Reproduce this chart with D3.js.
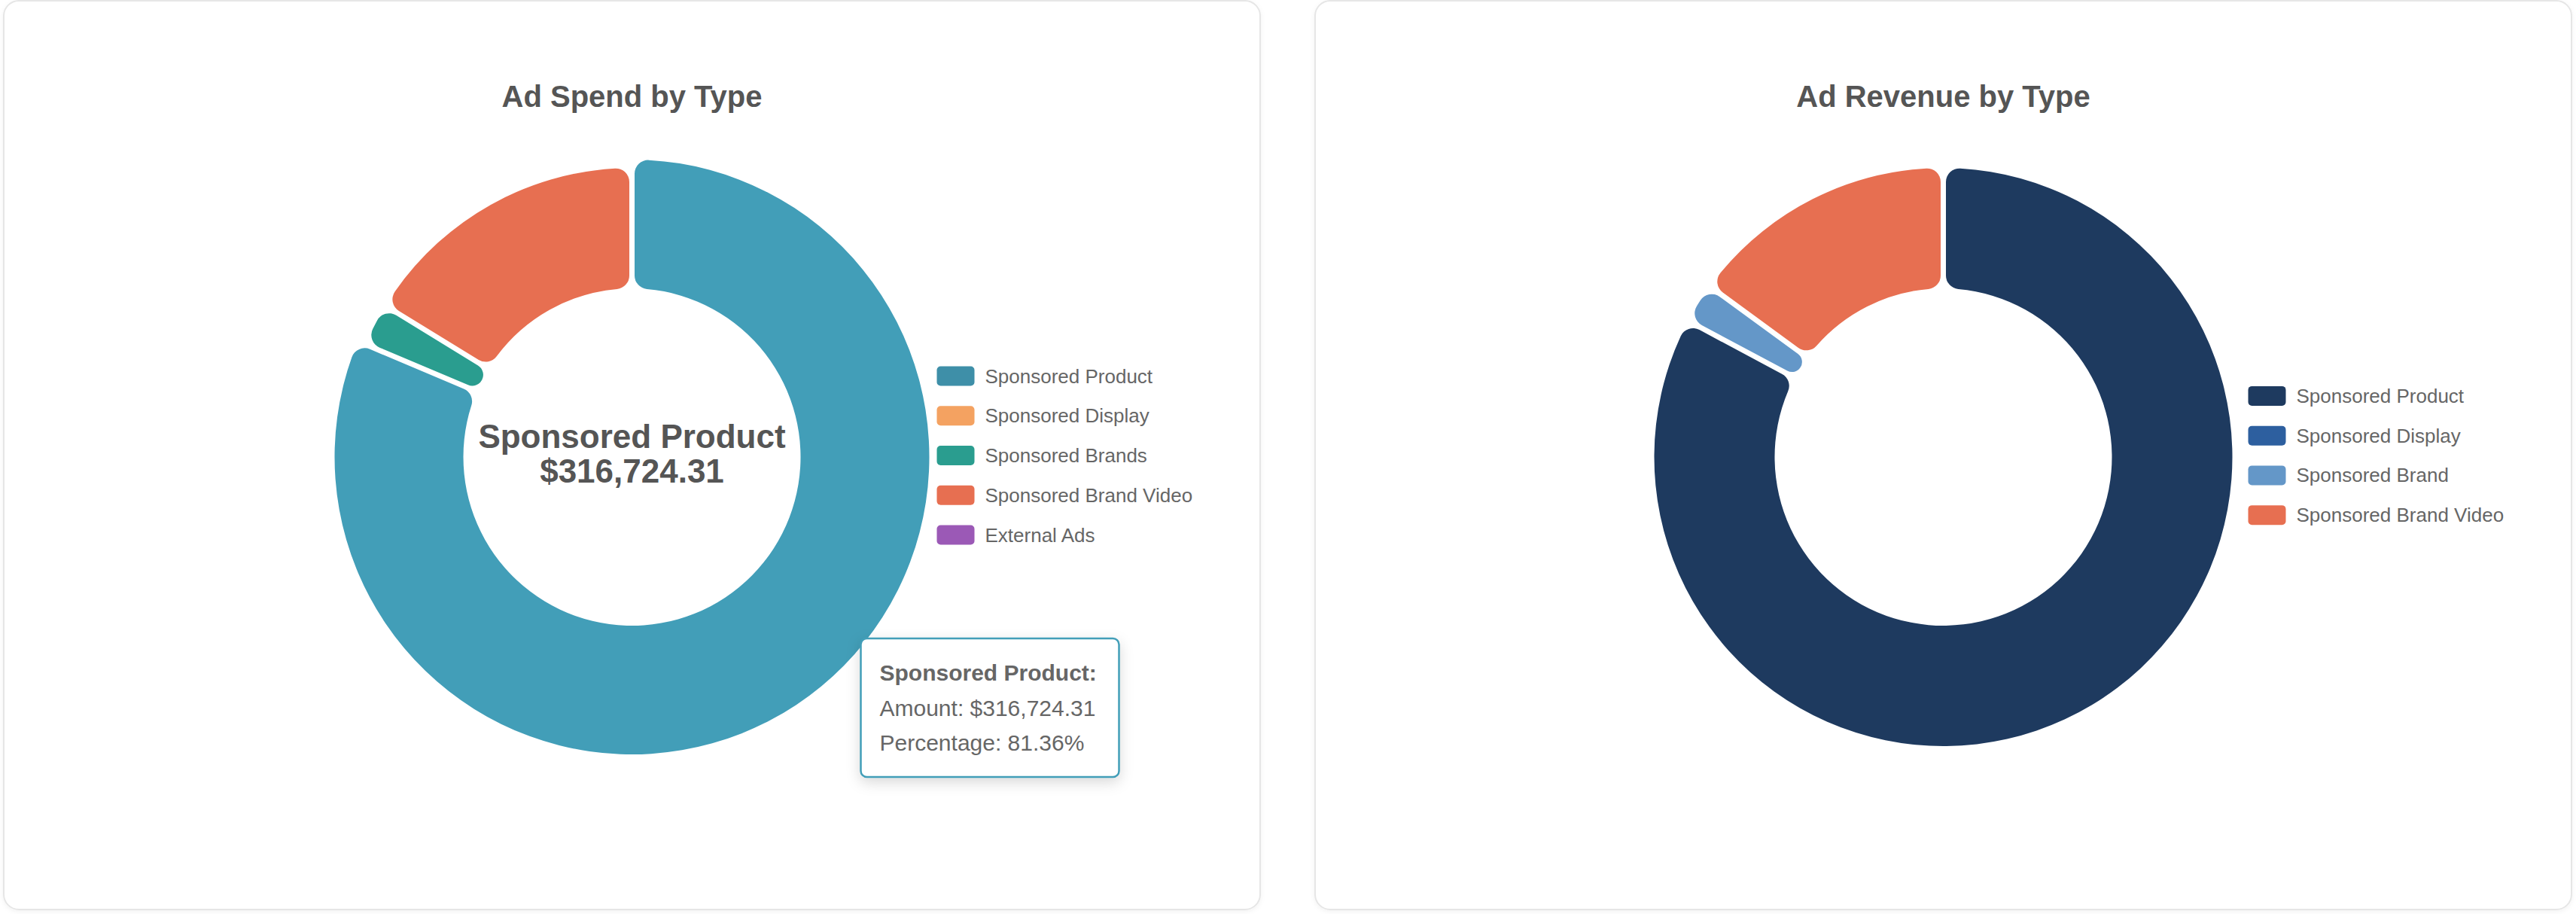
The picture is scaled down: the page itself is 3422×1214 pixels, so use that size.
<!DOCTYPE html>
<html>
<head>
<meta charset="utf-8">
<script src="https://cdn.jsdelivr.net/npm/d3@7"></script>
<style>
  html, body { margin: 0; padding: 0; background: #fff; }
  svg { display: block; font-family: "Liberation Sans", Arial, Helvetica, sans-serif; }
</style>
</head>
<body>
<div id="chart"></div>
<script>
// --- data ---
const spendLabels = ['Sponsored Product', 'Sponsored Display', 'Sponsored Brands', 'Sponsored Brand Video', 'External Ads'];
const spendValues = [316724.31, 0, 9350.42, 63212.77, 0];
const spendColors = ['#429eb8', '#f4a261', '#2a9d8f', '#e76f51', '#9b59b6'];
const spendLegendColors = ['#3e8fa8', '#f4a261', '#2a9d8f', '#e76f51', '#9b59b6'];

const revenueLabels = ['Sponsored Product', 'Sponsored Display', 'Sponsored Brand', 'Sponsored Brand Video'];
const revenueValues = [828450.12, 0, 22510.40, 149580.75];
const revenueColors = ['#1e3a5f', '#2d5f9f', '#6497c8', '#e76f51'];

const width = 3422;
const height = 1214;

const svg = d3.select('#chart')
  .append('svg')
  .attr('width', width)
  .attr('height', height);

const defs = svg.append('defs');
defs.append('filter')
  .attr('id', 'cardShadow')
  .attr('x', '-5%').attr('y', '-5%').attr('width', '110%').attr('height', '110%')
  .append('feDropShadow')
  .attr('dx', 0).attr('dy', 2).attr('stdDeviation', 3)
  .attr('flood-color', '#000').attr('flood-opacity', 0.05);
defs.append('filter')
  .attr('id', 'tipShadow')
  .attr('x', '-20%').attr('y', '-20%').attr('width', '140%').attr('height', '150%')
  .append('feDropShadow')
  .attr('dx', 0).attr('dy', 6).attr('stdDeviation', 9)
  .attr('flood-color', '#000').attr('flood-opacity', 0.15);

const fmt = d3.format(',.2f');

function drawCard(x0, x1, opts) {
  const g = svg.append('g');
  g.append('rect')
    .attr('x', x0).attr('y', 1)
    .attr('width', x1 - x0).attr('height', 1207)
    .attr('rx', 20)
    .attr('fill', '#fff')
    .attr('stroke', '#e6e6e6')
    .attr('stroke-width', 2)
    .attr('filter', 'url(#cardShadow)');

  const cx = (x0 + x1) / 2;
  const cy = 607;
  const outer = 384;
  const inner = 224;

  g.append('text')
    .attr('x', cx).attr('y', 142)
    .attr('text-anchor', 'middle')
    .attr('fill', '#555')
    .style('font-size', '40px')
    .style('font-weight', 'bold')
    .text(opts.title);

  const data = opts.labels.map((l, i) => ({ label: l, value: opts.values[i], color: opts.colors[i] }));
  const total = d3.sum(data, d => d.value);

  const pie = d3.pie().sort(null).value(d => d.value);
  const arcs = pie(data);

  const arc = d3.arc()
    .innerRadius(inner)
    .outerRadius(d => d.data.label === opts.hover ? outer + 11 : outer)
    .cornerRadius(18)
    .padAngle(7 / outer)
    .padRadius(outer);

  g.append('g')
    .attr('transform', `translate(${cx},${cy})`)
    .selectAll('path')
    .data(arcs.filter(d => d.value > 0))
    .join('path')
    .attr('d', arc)
    .attr('fill', d => d.data.color);

  // legend
  const rowH = 52.75;
  const y = d3.scaleBand()
    .domain(opts.labels)
    .range([cy - 2 - rowH * opts.labels.length / 2, cy - 2 + rowH * opts.labels.length / 2]);

  const lg = g.append('g')
    .selectAll('g')
    .data(data)
    .join('g')
    .attr('transform', d => `translate(${cx + 405},${y(d.label) + y.bandwidth() / 2})`);
  lg.append('rect')
    .attr('x', 0).attr('y', -13)
    .attr('width', 50).attr('height', 26)
    .attr('rx', 5)
    .attr('fill', (d, i) => (opts.legendColors || opts.colors)[i]);
  lg.append('text')
    .attr('x', 64).attr('y', 9)
    .attr('fill', '#666')
    .style('font-size', '26px')
    .text(d => d.label);

  if (opts.hover) {
    const h = data.find(d => d.label === opts.hover);
    // center label
    g.append('text')
      .attr('x', cx).attr('y', 595)
      .attr('text-anchor', 'middle')
      .attr('fill', '#555')
      .style('font-size', '44px')
      .style('font-weight', 'bold')
      .text(h.label);
    g.append('text')
      .attr('x', cx).attr('y', 641)
      .attr('text-anchor', 'middle')
      .attr('fill', '#555')
      .style('font-size', '44px')
      .style('font-weight', 'bold')
      .text('$' + fmt(h.value));

    // tooltip
    const tx = cx + 304;
    const ty = cy + 241;
    const tip = g.append('g').attr('transform', `translate(${tx},${ty})`);
    tip.append('rect')
      .attr('width', 343).attr('height', 184)
      .attr('rx', 8)
      .attr('fill', '#fff')
      .attr('stroke', h.color)
      .attr('stroke-width', 2.5)
      .attr('filter', 'url(#tipShadow)');
    const lines = [
      { t: h.label + ':', bold: true },
      { t: 'Amount: $' + fmt(h.value), bold: false },
      { t: 'Percentage: ' + (h.value / total * 100).toFixed(2) + '%', bold: false }
    ];
    tip.selectAll('text')
      .data(lines)
      .join('text')
      .attr('x', 25)
      .attr('y', (d, i) => 56 + i * 46.5)
      .attr('fill', '#666')
      .style('font-size', '30px')
      .style('font-weight', d => d.bold ? 'bold' : 'normal')
      .text(d => d.t);
  }
}

drawCard(5, 1674, {
  title: 'Ad Spend by Type',
  labels: spendLabels,
  values: spendValues,
  colors: spendColors,
  legendColors: spendLegendColors,
  hover: 'Sponsored Product'
});

drawCard(1747, 3416, {
  title: 'Ad Revenue by Type',
  labels: revenueLabels,
  values: revenueValues,
  colors: revenueColors
});
</script>
</body>
</html>
